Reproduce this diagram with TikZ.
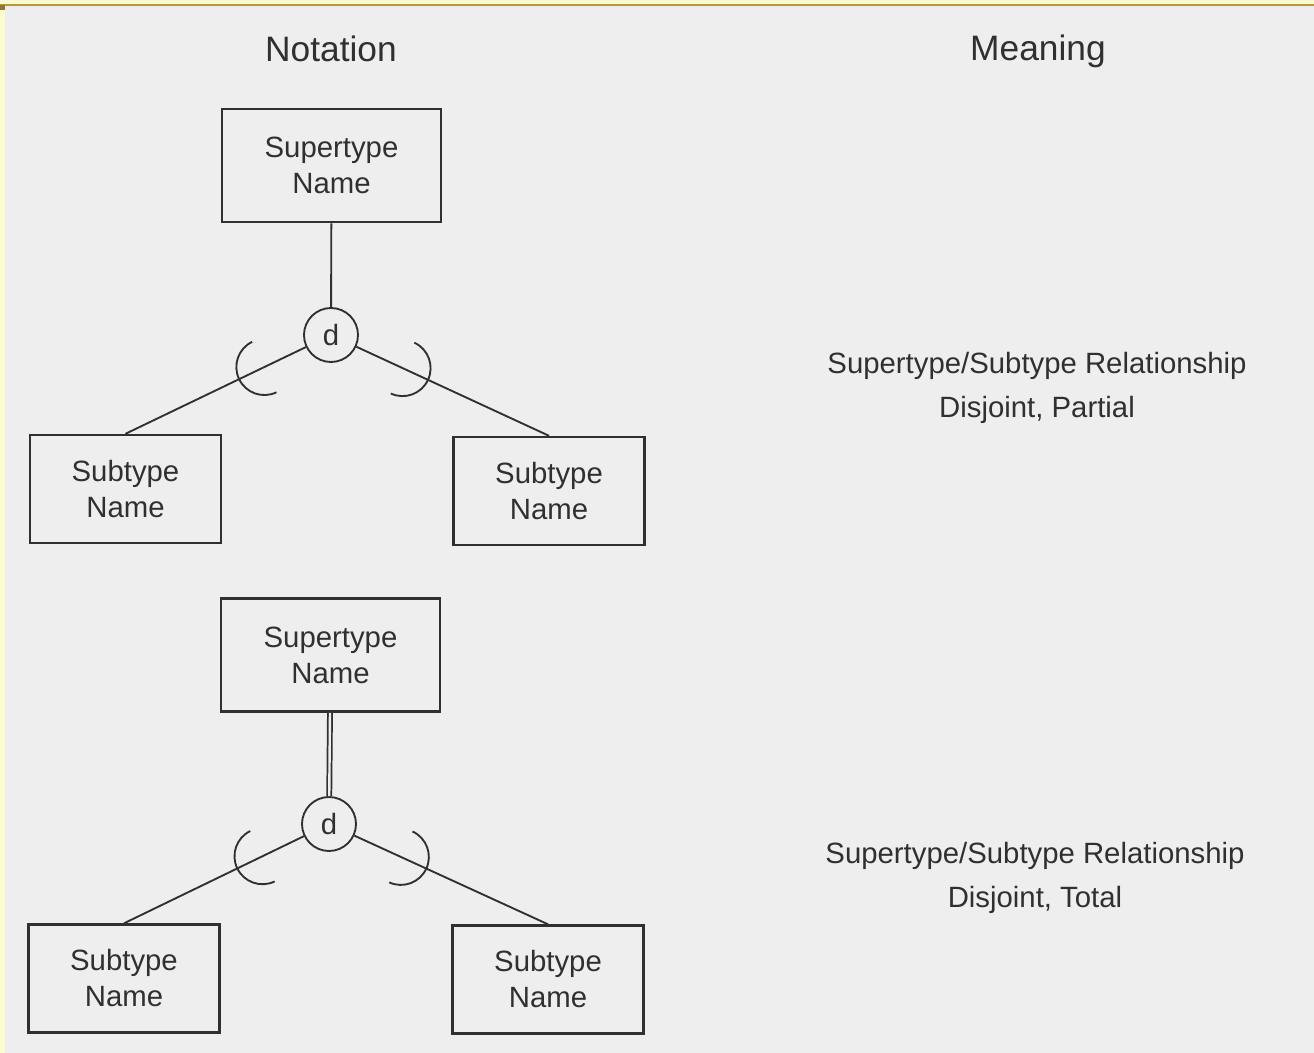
\documentclass[tikz,border=0pt]{standalone}
\usepackage{fontspec}
\setmainfont{Liberation Sans}

\definecolor{ink}{RGB}{48,48,48}
\definecolor{paper}{RGB}{238,238,238}
\definecolor{margin}{RGB}{253,251,208}
\definecolor{rule}{RGB}{186,150,62}

\tikzset{every picture/.style={line width=1.4pt}}

\begin{document}
\begin{tikzpicture}[x=0.75pt,y=0.75pt,yscale=-1,xscale=1,
    entity/.style={draw=ink, line width=1.8pt, text=ink, align=center, inner sep=0pt,
      font=\fontsize{22}{27}\selectfont},
    supbox/.style={entity, minimum width=164pt, minimum height=85pt},
    subbox/.style={entity, minimum width=143pt, minimum height=81pt},
    disjoint/.style={circle, draw=ink, line width=1.4pt, text=ink, inner sep=0pt,
      minimum size=40.5pt, font=\fontsize{22}{27}\selectfont},
    heading/.style={text=ink, font=\fontsize{26.5}{30}\selectfont},
    meaning/.style={text=ink, align=center, font=\fontsize{22}{33}\selectfont},
    link/.style={draw=ink, line width=1.4pt},
    total/.style={draw=ink, line width=1.3pt, double=paper, double distance=1.8pt},
    pics/subset/.style={code={
      \draw[ink, line width=1.4pt] (0,28) arc[start angle=90, end angle=-90, radius=28];}}
  ]
  \useasboundingbox (0,0) rectangle (1314,1053);

  % page
  \fill[margin] (0,0) rectangle (1314,1053);
  \fill[paper] (5,6) rectangle (1314,1053);
  \draw[rule, line width=1.5pt] (0,5) -- (1314,5);
  \fill[rule!80!black] (0,5) rectangle (5,10);

  % Column titles
  \node[heading] (nothead) at (331,49) {Notation};
  \node[heading] (meanhead) at (1038,51) {Meaning};

  % Disjoint, partial
  \node[supbox] (sup1) at (331.5,165.5) {Supertype\\Name};
  \node[disjoint] (dis1) at (331,335) {d};
  \node[subbox] (subL1) at (125.5,489) {Subtype\\Name};
  \node[subbox] (subR1) at (549,491) {Subtype\\Name};
  \draw[link] (sup1) -- (dis1);
  \node[meaning] (rel1) at (1037,388) {Supertype/Subtype Relationship\\Disjoint, Partial};

  % Disjoint, total
  \node[supbox] (sup2) at (330.5,655) {Supertype\\Name};
  \node[disjoint] (dis2) at (329,824) {d};
  \node[subbox] (subL2) at (124,978.5) {Subtype\\Name};
  \node[subbox] (subR2) at (548,979.5) {Subtype\\Name};
  \draw[total] (sup2) -- (dis2);
  \node[meaning] (rel2) at (1035,877.5) {Supertype/Subtype Relationship\\Disjoint, Total};

  % subtype links, y turned back up so the sloped arcs face the circle
  \begin{scope}[yscale=-1]
    \draw[link] (dis1) -- (subL1.north) pic[pos=0.23, sloped, allow upside down] {subset};
    \draw[link] (dis1) -- (subR1.north) pic[pos=0.24, sloped, allow upside down] {subset};
    \draw[link] (dis2) -- (subL2.north) pic[pos=0.23, sloped, allow upside down] {subset};
    \draw[link] (dis2) -- (subR2.north) pic[pos=0.24, sloped, allow upside down] {subset};
  \end{scope}

\end{tikzpicture}
\end{document}
